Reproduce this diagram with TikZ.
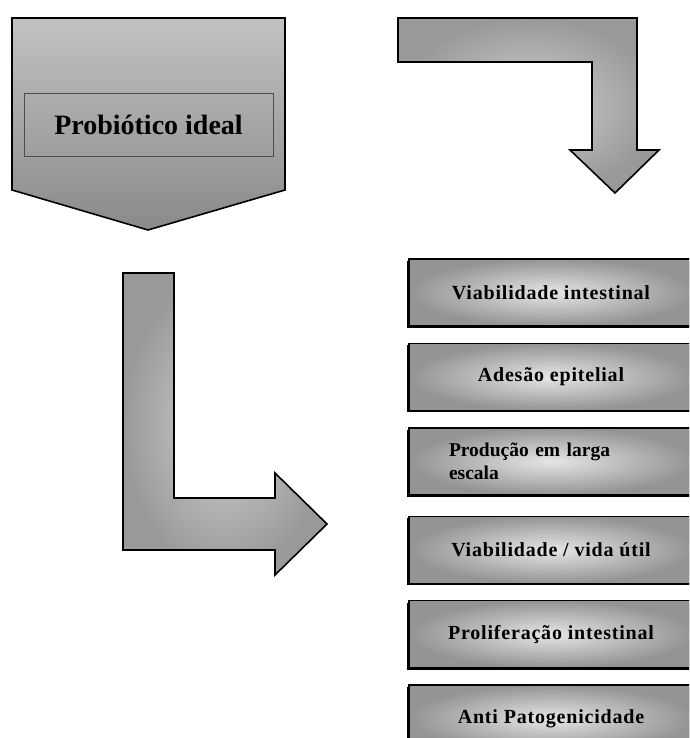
\documentclass[tikz,border=0pt]{standalone}
\usepackage{fontspec}
\setmainfont{Liberation Serif}
\newfontfamily\wideserif[LetterSpace=4]{Liberation Serif}
\usetikzlibrary{positioning,shadows}

\tikzset{
  shape edge/.style={draw=black, line width=1.6pt, line join=miter},
  bent arrow/.style={shape edge, shading=radial, inner color=black!18, outer color=black!40},
  trait/.style={draw=black, line width=1.4pt, inner sep=0pt,
    minimum width=284pt, minimum height=67pt,
    shading=radial, inner color=black!10, outer color=black!42,
    font=\wideserif\fontsize{20}{23}\selectfont\bfseries,
    drop shadow={shadow xshift=-2pt, shadow yshift=-2pt, fill=black, opacity=1}},
}

\begin{document}
\begin{tikzpicture}[x=1pt, y=-1pt, node distance=16pt]
  \useasboundingbox (0,0) rectangle (689,738);
  \clip (0,0) rectangle (689,738);

  % chevron with the title
  \path[shape edge, top color=black!24, bottom color=black!46]
    (12,18) -- (285,18) -- (285,190) -- (148,230) -- (12,190) -- cycle;
  \node[draw=black!70, line width=0.8pt, minimum width=249pt, minimum height=63pt,
        font=\fontsize{28}{32}\selectfont\bfseries] (ideal) at (148.5,124.5) {Probiótico ideal};

  % bent arrows
  \path[bent arrow] (398,18) -- (637,18) -- (637,150) -- (659,150) -- (615,193)
    -- (570,150) -- (592,150) -- (592,62) -- (398,62) -- cycle;
  \path[bent arrow] (123,273) -- (174,273) -- (174,498) -- (275,498) -- (275,473)
    -- (327,524) -- (275,575) -- (275,550) -- (123,550) -- cycle;

  % list of properties
  \node[trait] (intestinal) at (551,292.5) {Viabilidade intestinal};
  \node[trait, below=of intestinal] (adhesion) {Adesão epitelial};
  \node[trait, below=of adhesion, text width=204pt, align=left,
        font=\fontsize{19.5}{23}\selectfont\bfseries] (scale) {Produção em larga\\escala};
  \node[trait, below=20pt of scale] (shelf) {Viabilidade / vida útil};
  \node[trait, below=of shelf] (prolif) {Proliferação intestinal};
  \node[trait, below=of prolif] (antipat) {Anti Patogenicidade};
\end{tikzpicture}
\end{document}
